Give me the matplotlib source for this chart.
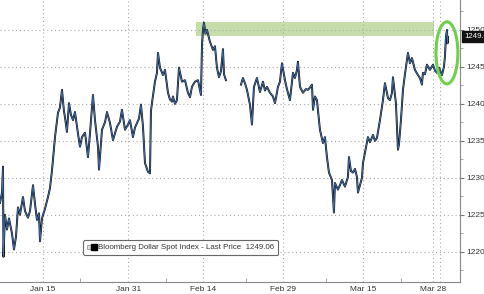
import numpy as np
import pandas as pd
import matplotlib
matplotlib.use("Agg")
import matplotlib.dates as mdates
from matplotlib import pyplot
from matplotlib.lines import Line2D
from matplotlib.legend_handler import HandlerTuple
from matplotlib.patches import Ellipse, Rectangle

pyplot.rcParams['font.family'] = ['Liberation Sans Narrow', 'Liberation Sans', 'DejaVu Sans']

# days since 2024-01-01 and spot index level
day = [5.95, 6.32, 6.51, 6.60, 6.88, 7.26, 7.63, 8.19, 8.57, 8.94, 9.32, 9.69, 10.25, 10.63,
       11.19, 11.57, 12.13, 12.50, 12.88, 13.25, 13.44, 13.81, 14.37, 14.94, 15.31, 15.69,
       16.25, 16.81, 17.18, 17.56, 17.93, 18.12, 18.49, 18.87, 19.24, 19.62, 19.99, 20.55,
       20.93, 21.30, 21.87, 22.43, 22.80, 23.36, 23.74, 24.30, 24.49, 25.05, 25.61, 25.99,
       26.55, 27.11, 27.86, 28.42, 28.79, 29.36, 29.92, 30.29, 30.85, 31.23, 31.60, 31.98,
       32.35, 32.73, 33.10, 33.66, 34.04, 34.22, 34.41, 34.97, 35.35, 35.54, 35.91, 36.47,
       36.85, 37.41, 37.78, 38.16, 38.34, 38.72, 39.09, 39.47, 40.03, 40.59, 41.15, 41.53,
       41.90, 42.46, 43.03, 43.59, 43.78, 43.96, 44.15, 44.43, 44.71, 45.27, 45.84, 46.21,
       46.58, 46.96, 47.33, 47.71, 47.90, 48.27,
       51.08, 51.45, 51.83, 52.20, 52.76, 53.14, 53.51, 54.07, 54.64, 55.20, 55.57, 55.95,
       56.51, 57.07, 57.45, 58.01, 58.38, 58.76, 59.32, 59.69, 60.25, 60.82, 61.19, 61.57,
       61.75, 62.13, 62.69, 63.25, 63.63, 64.00, 64.38, 64.57, 64.94, 65.31, 65.87, 66.43,
       66.81, 67.18, 67.56, 68.12, 68.49, 68.68, 69.24, 69.62, 69.99, 70.55, 71.12, 71.30,
       71.68, 72.05, 72.43, 72.80, 72.99, 73.36, 73.74, 73.93, 74.30, 74.86, 75.24, 75.80,
       76.18, 76.55, 77.11, 77.67, 78.04, 78.61, 78.98, 79.36, 79.54, 80.10, 80.48, 80.67,
       81.04, 81.42, 81.79, 82.17, 82.35, 82.73, 83.10, 83.66, 84.22, 84.60, 84.97, 85.16,
       85.54, 85.91, 86.47, 87.04, 87.41, 87.79, 88.16, 88.72, 89.09, 89.28, 89.47, 89.66,
       89.76, 89.85]
price = [1226.6, 1228.0, 1231.5, 1219.3, 1225.0, 1223.0, 1224.5, 1222.5, 1220.3, 1222.0,
         1226.0, 1225.0, 1227.4, 1225.5, 1224.6, 1225.5, 1229.0, 1226.5, 1224.3, 1225.2,
         1221.4, 1224.5, 1225.8, 1227.4, 1228.6, 1231.0, 1235.5, 1238.8, 1239.5, 1241.9,
         1239.0, 1238.2, 1236.2, 1240.1, 1238.5, 1237.8, 1238.9, 1236.0, 1234.2, 1235.5,
         1236.1, 1232.8, 1236.0, 1241.2, 1237.8, 1234.2, 1231.1, 1236.5, 1237.5, 1238.9,
         1237.4, 1235.1, 1236.9, 1237.6, 1239.2, 1236.5, 1237.2, 1237.8, 1235.5, 1236.8,
         1237.4, 1238.0, 1239.9, 1236.9, 1232.0, 1230.8, 1230.6, 1239.0, 1240.1, 1243.0,
         1244.2, 1246.9, 1244.9, 1243.9, 1244.6, 1241.5, 1240.6, 1240.3, 1241.0, 1240.0,
         1240.5, 1244.9, 1243.0, 1243.2, 1241.5, 1240.9, 1242.3, 1243.0, 1243.2, 1241.2,
         1248.0, 1250.0, 1251.0, 1249.5, 1250.0, 1248.4, 1247.3, 1247.8, 1244.9, 1243.6,
         1244.4, 1247.4, 1244.0, 1243.2,
         1242.6, 1243.5, 1242.8, 1241.9, 1239.9, 1237.2, 1242.3, 1243.5, 1241.6, 1243.0,
         1241.8, 1242.3, 1241.5, 1241.0, 1240.1, 1242.3, 1243.0, 1245.5, 1243.2, 1242.0,
         1240.5, 1244.2, 1243.5, 1244.6, 1245.7, 1242.3, 1241.5, 1242.0, 1241.9, 1242.2,
         1242.6, 1239.2, 1241.0, 1240.5, 1236.5, 1234.7, 1235.5, 1232.8, 1230.7, 1229.7,
         1225.3, 1229.3, 1228.4, 1229.0, 1229.7, 1228.8, 1230.1, 1232.8, 1230.9, 1230.7,
         1231.2, 1230.1, 1228.0, 1229.0, 1230.0, 1232.0, 1233.4, 1235.5, 1234.8, 1235.8,
         1235.0, 1235.4, 1237.8, 1240.5, 1242.8, 1240.8, 1240.5, 1241.5, 1243.6, 1240.1,
         1233.8, 1234.5, 1237.8, 1241.9, 1244.0, 1245.9, 1246.9, 1245.5, 1246.2, 1244.6,
         1243.9, 1243.5, 1242.6, 1244.2, 1244.0, 1245.3, 1244.6, 1245.3, 1244.5, 1244.2,
         1244.9, 1243.9, 1245.0, 1246.4, 1249.1, 1250.0, 1248.2, 1249.06]

last_price = 1249.06
series_name = "Bloomberg Dollar Spot Index - Last Price"
tick_days = ["2024-01-15", "2024-01-31", "2024-02-14", "2024-02-29", "2024-03-15", "2024-03-28"]
tick_labels = ["Jan 15", "Jan 31", "Feb 14", "Feb 29", "Mar 15", "Mar 28"]
minor_days = ["2024-01-22", "2024-02-07", "2024-02-22", "2024-03-08", "2024-03-22"]

base = pd.Timestamp("2024-01-01")
day_arr = np.array(day)
price_arr = np.array(price, dtype=float)
# break the line over the data gap
gap = np.where(np.diff(day_arr) > 2)[0]
day_arr = np.insert(day_arr, gap + 1, day_arr[gap] + 0.5)
price_arr = np.insert(price_arr, gap + 1, np.nan)
dates = mdates.date2num((base + pd.to_timedelta(day_arr, unit="D")).to_pydatetime())


def dnum(d):
    return mdates.date2num((base + pd.to_timedelta(d, unit="D")).to_pydatetime())


fig = pyplot.figure(figsize=(4.85, 2.94), dpi=100, facecolor='w')
ax = fig.add_axes([0, 12 / 294, 460 / 485, 282 / 294])

ax.set_xlim(dnum(5.95), dnum(92.1))
ax.set_ylim(1215.9, 1254.05)

# highlight band and ellipse
ax.add_patch(Rectangle((dnum(42.65), 1249.2), dnum(87.2) - dnum(42.65), 1.9,
                       facecolor='#bcd89c', edgecolor='none', alpha=0.85, zorder=1))

ax.plot(dates, price_arr, color='#111111', linewidth=1.4, zorder=3)
ax.plot(dates, price_arr, color='#3f74b8', linewidth=0.6, zorder=4)

ax.add_patch(Ellipse((dnum(89.65), 1246.9), dnum(4.1) - dnum(0), 8.4,
                     facecolor='none', edgecolor='#6fd04a', linewidth=2.2, zorder=5))

ax.yaxis.tick_right()
ax.set_yticks([1220, 1225, 1230, 1235, 1240, 1245, 1250])
ax.yaxis.set_minor_locator(matplotlib.ticker.MultipleLocator(2.5))
ax.set_xticks(mdates.date2num(pd.to_datetime(tick_days).to_pydatetime()))
ax.set_xticklabels(tick_labels)
ax.set_xticks(mdates.date2num(pd.to_datetime(minor_days).to_pydatetime()), minor=True)

ax.tick_params(axis='y', which='major', direction='out', length=3, width=0.8, color='#777777',
               labelsize=6, labelcolor='#333333', pad=1.5)
ax.tick_params(axis='y', which='minor', direction='out', length=2, width=0.6, color='#999999')
ax.tick_params(axis='x', which='major', length=0, labelsize=6, labelcolor='#333333', pad=3)
ax.tick_params(axis='x', which='minor', direction='in', length=3, width=0.6, color='#999999')

ax.grid(which='major', linestyle=(0, (1, 2.5)), linewidth=0.8, color='#aaaaaa')
ax.axvline(dnum(88.3), linestyle=(0, (1, 2.5)), linewidth=0.8, color='#aaaaaa')
for s in ['left', 'top']:
    ax.spines[s].set_visible(False)
for s in ['right', 'bottom']:
    ax.spines[s].set_color('#888888')
    ax.spines[s].set_linewidth(0.8)

# last price tag (cut off at the right edge, as in the original)
ax.annotate("{:.2f}".format(last_price), xy=(1.0, last_price),
            xycoords=('axes fraction', 'data'), xytext=(3, 0), textcoords='offset points',
            ha='left', va='center', fontsize=5.6, color='white', annotation_clip=False,
            bbox=dict(boxstyle='square,pad=0.25', facecolor='#111111', edgecolor='#111111'))

h_small = Line2D([], [], marker='s', linestyle='', markersize=3, markerfacecolor='#dddddd',
                 markeredgecolor='#888888', markeredgewidth=0.5)
h_big = Line2D([], [], marker='s', linestyle='', markersize=5, color='black')
leg = ax.legend([(h_small, h_big)], ["{}  {:.2f}".format(series_name, last_price)],
                handler_map={tuple: HandlerTuple(ndivide=None, pad=0.1)},
                loc='lower left', bbox_to_anchor=(83 / 460, 27 / 282), borderaxespad=0,
                fontsize=5.7, handlelength=1.2, handletextpad=0.3, borderpad=0.45,
                frameon=True, fancybox=True, framealpha=1)
leg.get_frame().set_edgecolor('#666666')
leg.get_frame().set_linewidth(0.8)
for t in leg.get_texts():
    t.set_color('#333333')

pyplot.savefig("out.png", dpi=100, facecolor='w')
